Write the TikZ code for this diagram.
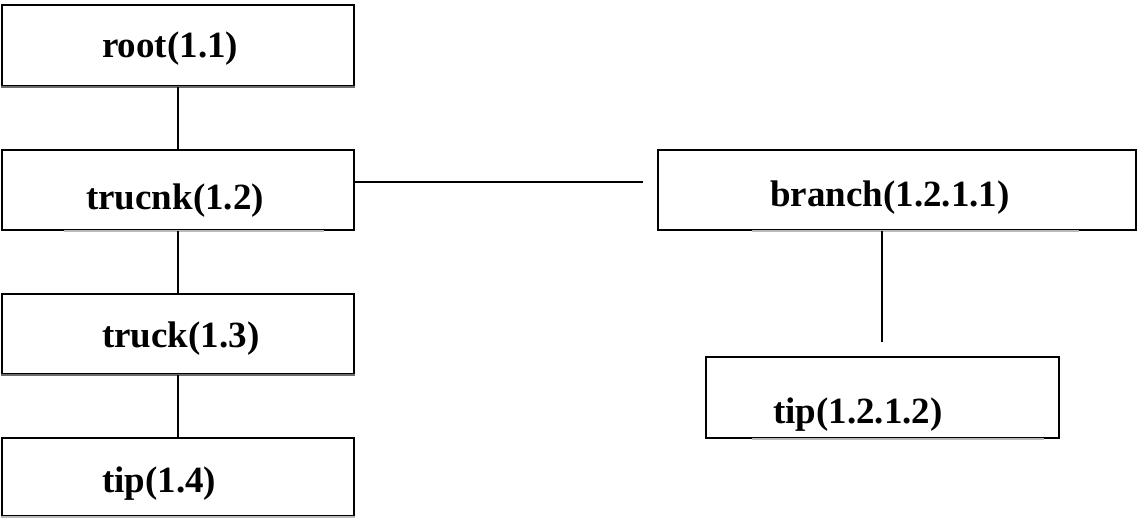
\documentclass[tikz,border=0pt]{standalone}
\usepackage{fontspec}
\setmainfont{Liberation Serif}
\usetikzlibrary{calc}

\tikzset{
  box/.style={draw=black, line width=2pt, rectangle, inner sep=0pt, fill=white},
  lbl/.style={inner sep=0pt, anchor=base west, font=\fontsize{37}{44}\selectfont\bfseries},
  link/.style={draw=black, line width=1.6pt},
  hlink/.style={draw=black, line width=2pt},
  softedge/.style={draw=gray!55, line width=1.2pt},
  darkedge/.style={draw=gray!85!black, line width=1.6pt},
}

\begin{document}
\begin{tikzpicture}[x=1pt, y=-1pt]
  \useasboundingbox (0,0) rectangle (1139,518);

  % boxes of the main stem
  \node[box, minimum width=352pt, minimum height=81pt] (root)   at (178,45.5) {};
  \node[box, minimum width=352pt, minimum height=80pt] (trucnk) at (178,190) {};
  \node[box, minimum width=352pt, minimum height=80pt] (truck)  at (178,334) {};
  \node[box, minimum width=352pt, minimum height=78pt] (tipA)   at (178,477) {};

  % boxes of the side branch
  \node[box, minimum width=478pt, minimum height=80pt] (branch) at (897,190) {};
  \node[box, minimum width=353pt, minimum height=81pt] (tipB)   at (882.5,397.5) {};

  % lighter bottom edges
  \draw[white, line width=2.4pt] (root.south west) -- (root.south east);
  \draw[darkedge] (root.south west) -- (root.south east);
  \draw[white, line width=2.4pt] (truck.south west) -- (truck.south east);
  \draw[darkedge] (truck.south west) -- (truck.south east);
  \draw[white, line width=2.4pt] (tipA.south west) -- (tipA.south east);
  \draw[softedge] (tipA.south west) -- (tipA.south east);
  \draw[white, line width=2.4pt] ($(trucnk.south west)+(63,0)$) -- ($(trucnk.south east)+(-31,0)$);
  \draw[softedge] ($(trucnk.south west)+(63,0)$) -- ($(trucnk.south east)+(-31,0)$);
  \draw[white, line width=2.4pt] ($(branch.south west)+(95,0)$) -- ($(branch.south east)+(-58,0)$);
  \draw[softedge] ($(branch.south west)+(95,0)$) -- ($(branch.south east)+(-58,0)$);
  \draw[white, line width=2.4pt] ($(tipB.south west)+(47,0)$) -- ($(tipB.south east)+(-16,0)$);
  \draw[softedge] ($(tipB.south west)+(47,0)$) -- ($(tipB.south east)+(-16,0)$);

  % labels
  \node[lbl] (rootlbl)   at (102,58)  {root(1.1)};
  \node[lbl] (trucnklbl) at (86,210)  {trucnk(1.2)};
  \node[lbl] (trucklbl)  at (102,347) {truck(1.3)};
  \node[lbl] (tipAlbl)   at (102,492) {tip(1.4)};
  \node[lbl] (branchlbl) at (770,207) {branch(1.2.1.1)};
  \node[lbl] (tipBlbl)   at (773,423) {tip(1.2.1.2)};

  % free ends of the side connectors
  \coordinate (hend) at (643,182);
  \coordinate (vend) at (882,342);

  % connectors
  \draw[link] (root.south) -- (trucnk.north);
  \draw[link] (trucnk.south) -- (truck.north);
  \draw[link] (truck.south) -- (tipA.north);
  \draw[hlink] (trucnk.east |- hend) -- (hend);
  \draw[link] (vend |- branch.south) -- (vend);
\end{tikzpicture}
\end{document}
